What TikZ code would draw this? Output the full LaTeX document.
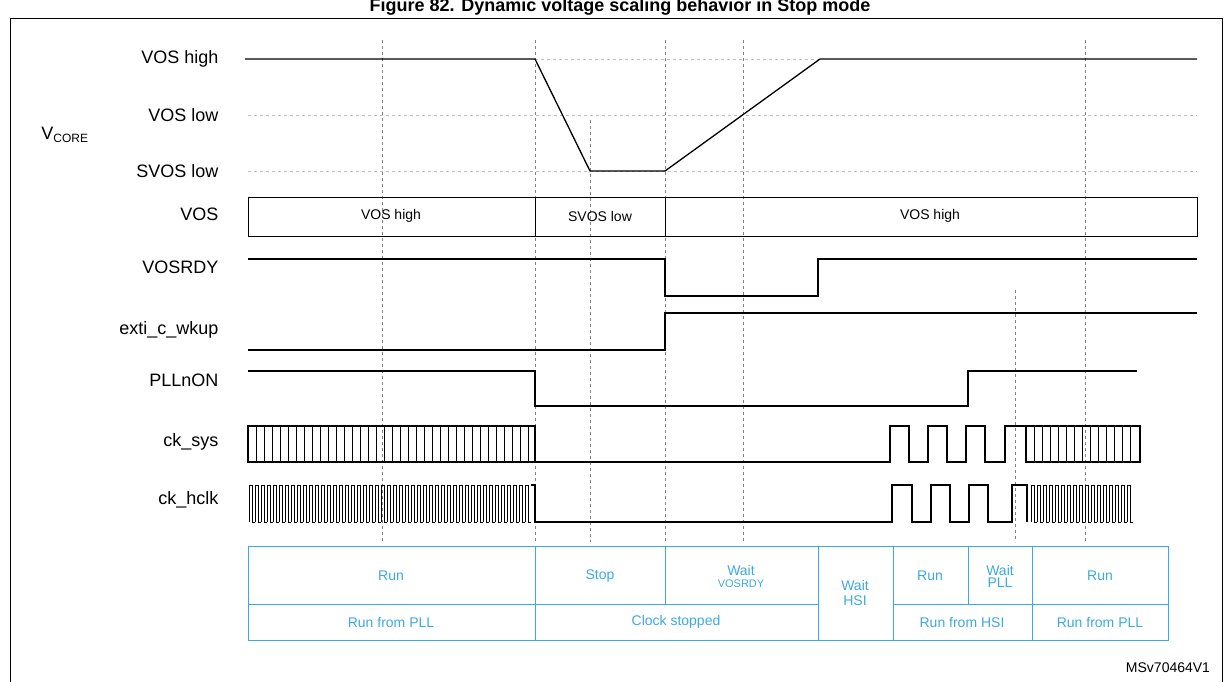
\documentclass[tikz,border=0pt]{standalone}
\usepackage{fontspec}
\setmainfont{Liberation Sans}
\definecolor{tblue}{RGB}{60,170,225}
\begin{document}
\begin{tikzpicture}[x=1pt,y=-1pt,
	sig/.style={line width=1.3pt,line join=miter},
	grid/.style={gray,dashed,line width=0.5pt},
	lvl/.style={gray!50,dashed,line width=0.5pt},
	lbl/.style={anchor=east,font=\fontsize{18}{20}\selectfont},
	cell/.style={tblue,line width=0.8pt},
	ctxt/.style={tblue,font=\fontsize{14}{15}\selectfont,align=center}]
		\useasboundingbox (0,0) rectangle (1232,681);
		\node[font=\bfseries\fontsize{18}{20}\selectfont] (title) at (620,7) {Figure 82. Dynamic voltage scaling behavior in Stop mode};
		\draw[line width=0.6pt] (10,18) rectangle (1222,690);
		% vertical markers
		\foreach \col in {382,535,665,743,1085}{
			\draw[grid] (\col,40) -- (\col,542);
		}
		\draw[grid] (590,120) -- (590,542);
		\draw[grid] (1015,290) -- (1015,542);
		% levels
		\draw[lvl] (535,59) -- (820,59);
		\draw[lvl] (248,115) -- (1197,115);
		\draw[lvl] (248,171) -- (1197,171);
		\node[lbl] (vh) at (222,59) {VOS high};
		\node[lbl] (vl) at (222,115) {VOS low};
		\node[lbl] (sl) at (222,171) {SVOS low};
		\node[font=\fontsize{18}{20}\selectfont] (vcore) at (65,135) {V\textsubscript{\fontsize{12}{13}\selectfont CORE}};
		\draw[sig] (245,59) -- (535,59) -- (590,171) -- (665,171) -- (820,59) -- (1197,59);
		% VOS
		\node[lbl] (vos) at (222,214) {VOS};
		\draw[line width=0.8pt] (248,197) rectangle (1197,236);
		\draw[line width=0.8pt] (535,197) -- (535,236) (665,197) -- (665,236);
		\node[font=\fontsize{14}{15}\selectfont] at (391,216) {VOS high};
		\node[font=\fontsize{14}{15}\selectfont] at (600,216) {SVOS low};
		\node[font=\fontsize{14}{15}\selectfont] at (930,216) {VOS high};
		% VOSRDY, exti, PLL
		\node[lbl] (rdy) at (222,267) {VOSRDY};
		\draw[sig] (248,259) -- (665,259) -- (665,296) -- (818,296) -- (818,259) -- (1197,259);
		\node[lbl] (exti) at (222,330) {exti\_c\_wkup};
		\draw[sig] (248,350) -- (665,350) -- (665,313) -- (1197,313);
		\node[lbl] (pll) at (222,380) {PLLnON};
		\draw[sig] (248,371) -- (535,371) -- (535,406) -- (968,406) -- (968,371) -- (1137,371);
		% ck_sys
		\node[lbl] (sys) at (222,442) {ck\_sys};
		\draw[sig] (248,426) rectangle (535,462);
		\foreach \x in {256,264,...,528}{
			\draw[line width=0.8pt] (\x,426) -- (\x,462);
		}
		\draw[sig] (535,462) -- (890,462) -- (890,426) -- (909,426) -- (909,462) -- (928,462) -- (928,426) -- (947,426) -- (947,462) -- (966,462) -- (966,426) -- (985,426) -- (985,462) -- (1005,462) -- (1005,426) -- (1026,426);
		\draw[sig] (1026,426) rectangle (1140,462);
		\foreach \x in {1034,1042,...,1134}{
			\draw[line width=0.8pt] (\x,426) -- (\x,462);
		}
		% ck_hclk
		\node[lbl] (hclk) at (222,500) {ck\_hclk};
		\foreach \x in {252,258,...,528}{
			\draw[line width=0.9pt] (\x-3,522) -- (\x-3,485) -- (\x,485) -- (\x,522) -- (\x+3,522);
		}
		\draw[sig] (531,485) -- (535,485) -- (535,522) -- (892,522) -- (892,485) -- (912,485) -- (912,522) -- (931,522) -- (931,485) -- (950,485) -- (950,522) -- (969,522) -- (969,485) -- (988,485) -- (988,522) -- (1012,522) -- (1012,485) -- (1027,485) -- (1027,522);
		\foreach \x in {1034,1040,...,1134}{
			\draw[line width=0.9pt] (\x-3,522) -- (\x-3,485) -- (\x,485) -- (\x,522) -- (\x+3,522);
		}
		% table
		\draw[cell] (248,546) rectangle (1168,640);
		\draw[cell] (248,604) -- (818,604) (893,604) -- (1168,604);
		\foreach \col in {535,818,893,1032}{
			\draw[cell] (\col,546) -- (\col,640);
		}
		\draw[cell] (665,546) -- (665,604) (968,546) -- (968,604);
		\node[ctxt] (t1) at (391,576) {Run};
		\node[ctxt] (t2) at (600,576) {Stop};
		\node[ctxt] (t3) at (741,576) {Wait\\[-3pt]{\fontsize{11}{12}\selectfont VOSRDY}};
		\node[ctxt] (t4) at (855,593) {Wait\\HSI};
		\node[ctxt] (t5) at (930,576) {Run};
		\node[ctxt] (t6) at (1000,576) {Wait\\[-3pt]PLL};
		\node[ctxt] (t7) at (1100,576) {Run};
		\node[ctxt] (b1) at (391,622) {Run from PLL};
		\node[ctxt] (b2) at (676,622) {Clock stopped};
		\node[ctxt] (b3) at (962,622) {Run from HSI};
		\node[ctxt] (b4) at (1100,622) {Run from PLL};
		\node[font=\fontsize{14}{15}\selectfont] (ref) at (1168,668) {MSv70464V1};
\end{tikzpicture}
\end{document}
